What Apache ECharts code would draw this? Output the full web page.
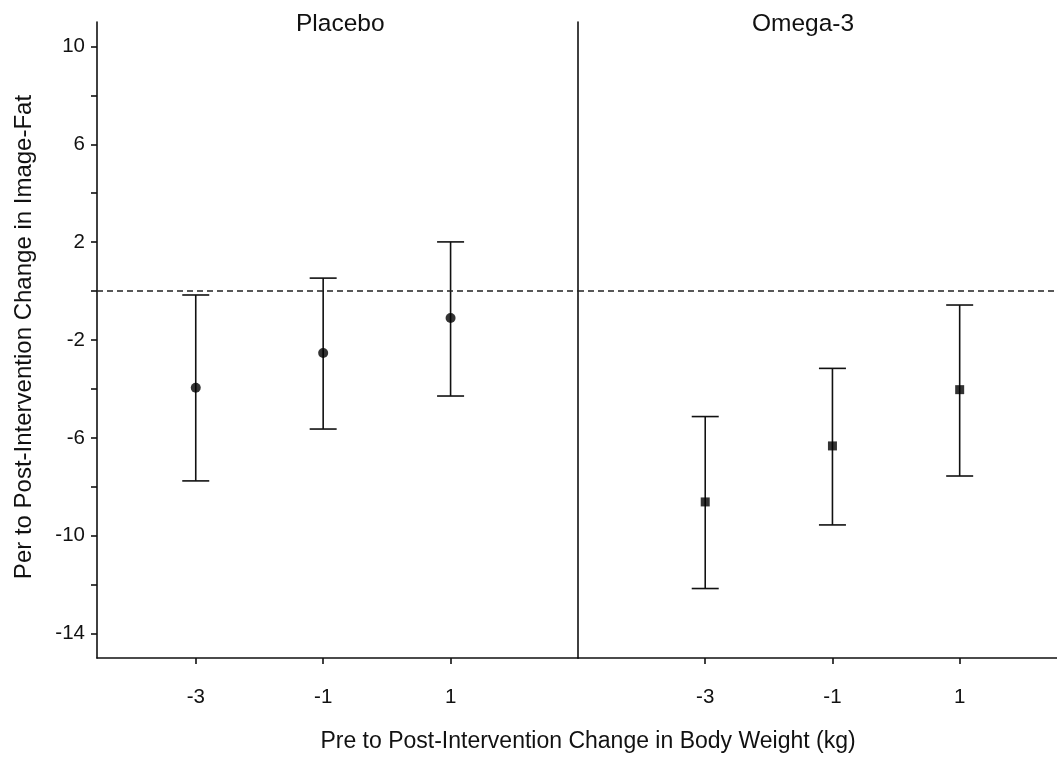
<!DOCTYPE html>
<html>
<head>
<meta charset="utf-8">
<script src="https://cdn.jsdelivr.net/npm/echarts@6/dist/echarts.min.js"></script>
<style>
  html, body { margin: 0; padding: 0; background: #fff; }
  #main { width: 1057px; height: 758px; }
</style>
</head>
<body>
<div id="main"></div>
<script>
// body weight change (kg) where estimates are shown
const weights = [-3, -1, 1]
// placebo: estimate and 95% interval
const placeboMean = [-3.95, -2.53, -1.10]
const placeboLow = [-7.76, -5.64, -4.29]
const placeboHigh = [-0.16, 0.53, 2.01]
// omega-3: estimate and 95% interval
const omegaMean = [-8.62, -6.33, -4.03]
const omegaLow = [-12.16, -9.56, -7.56]
const omegaHigh = [-5.13, -3.16, -0.57]
// axis ticks
const yTicks = [-14, -12, -10, -8, -6, -4, -2, 0, 2, 4, 6, 8, 10]
const yLabels = [-14, -10, -6, -2, 2, 6, 10]
const xTicks = [-3, -1, 1]

const ink = '#111'
const font = '"Liberation Sans", Arial, sans-serif'

function errorBars(lo, hi) {
  return weights.map((w, i) => [w, lo[i], hi[i]])
}

function renderBar(params, api) {
  const x = api.value(0)
  const a = api.coord([x, api.value(1)])
  const b = api.coord([x, api.value(2)])
  const half = 13.5
  const style = { stroke: ink, lineWidth: 1.6 }
  return {
    type: 'group',
    children: [
      { type: 'line', shape: { x1: a[0], y1: a[1], x2: b[0], y2: b[1] }, style },
      { type: 'line', shape: { x1: a[0] - half, y1: a[1], x2: a[0] + half, y2: a[1] }, style },
      { type: 'line', shape: { x1: b[0] - half, y1: b[1], x2: b[0] + half, y2: b[1] }, style }
    ]
  }
}

const zeroLine = {
  silent: true,
  symbol: 'none',
  label: { show: false },
  lineStyle: { color: '#222', type: [6, 4], width: 1.5 },
  data: [{ yAxis: 0 }]
}

function xAxisFor(gridIndex, min, max) {
  return {
    type: 'value',
    gridIndex,
    min,
    max,
    splitLine: { show: false },
    axisLine: { show: true, onZero: false, lineStyle: { color: ink, width: 1.6 } },
    axisTick: { show: true, customValues: xTicks, length: 6, lineStyle: { color: ink, width: 1.6 } },
    axisLabel: { customValues: xTicks, color: ink, fontSize: 20.5, fontFamily: font, margin: 29 }
  }
}

const chart = echarts.init(document.getElementById('main'), null, { renderer: 'canvas' })
chart.setOption({
  animation: false,
  backgroundColor: '#fff',
  grid: [
    { left: 97, top: 22, width: 481, height: 636 },
    { left: 578, top: 22, width: 479, height: 636 }
  ],
  graphic: [
    { type: 'text', left: 296, top: 12, style: { text: 'Placebo', fontSize: 24.5, fontFamily: font, fill: ink } },
    { type: 'text', left: 752, top: 12, style: { text: 'Omega-3', fontSize: 24.5, fontFamily: font, fill: ink } },
    {
      type: 'text', x: 588, y: 742,
      style: { text: 'Pre to Post-Intervention Change in Body Weight (kg)', fontSize: 23, fontFamily: font, fill: ink, align: 'center', verticalAlign: 'middle' }
    },
    {
      type: 'text', x: 24, y: 337, rotation: Math.PI / 2,
      style: { text: 'Per to Post-Intervention Change in Image-Fat', fontSize: 24, fontFamily: font, fill: ink, align: 'center', verticalAlign: 'middle' }
    }
  ],
  xAxis: [xAxisFor(0, -4.55, 3), xAxisFor(1, -5, 2.53)],
  yAxis: [
    {
      type: 'value',
      gridIndex: 0,
      min: -15,
      max: 11,
      splitLine: { show: false },
      axisLine: { show: true, onZero: false, lineStyle: { color: ink, width: 1.6 } },
      axisTick: { show: true, customValues: yTicks, length: 6, lineStyle: { color: ink, width: 1.6 } },
      axisLabel: { customValues: yLabels, color: ink, fontSize: 20.5, fontFamily: font, margin: 12 }
    },
    {
      type: 'value',
      gridIndex: 1,
      min: -15,
      max: 11,
      splitLine: { show: false },
      axisLine: { show: true, onZero: false, lineStyle: { color: ink, width: 1.6 } },
      axisTick: { show: false },
      axisLabel: { show: false }
    }
  ],
  series: [
    {
      type: 'custom',
      xAxisIndex: 0,
      yAxisIndex: 0,
      renderItem: renderBar,
      data: errorBars(placeboLow, placeboHigh),
      z: 2
    },
    {
      type: 'scatter',
      xAxisIndex: 0,
      yAxisIndex: 0,
      symbol: 'circle',
      symbolSize: 10,
      itemStyle: { color: '#000' },
      data: weights.map((w, i) => [w, placeboMean[i]]),
      markLine: zeroLine,
      z: 3
    },
    {
      type: 'custom',
      xAxisIndex: 1,
      yAxisIndex: 1,
      renderItem: renderBar,
      data: errorBars(omegaLow, omegaHigh),
      z: 2
    },
    {
      type: 'scatter',
      xAxisIndex: 1,
      yAxisIndex: 1,
      symbol: 'rect',
      symbolSize: 9,
      itemStyle: { color: '#000' },
      data: weights.map((w, i) => [w, omegaMean[i]]),
      markLine: zeroLine,
      z: 3
    }
  ]
})
</script>
</body>
</html>
